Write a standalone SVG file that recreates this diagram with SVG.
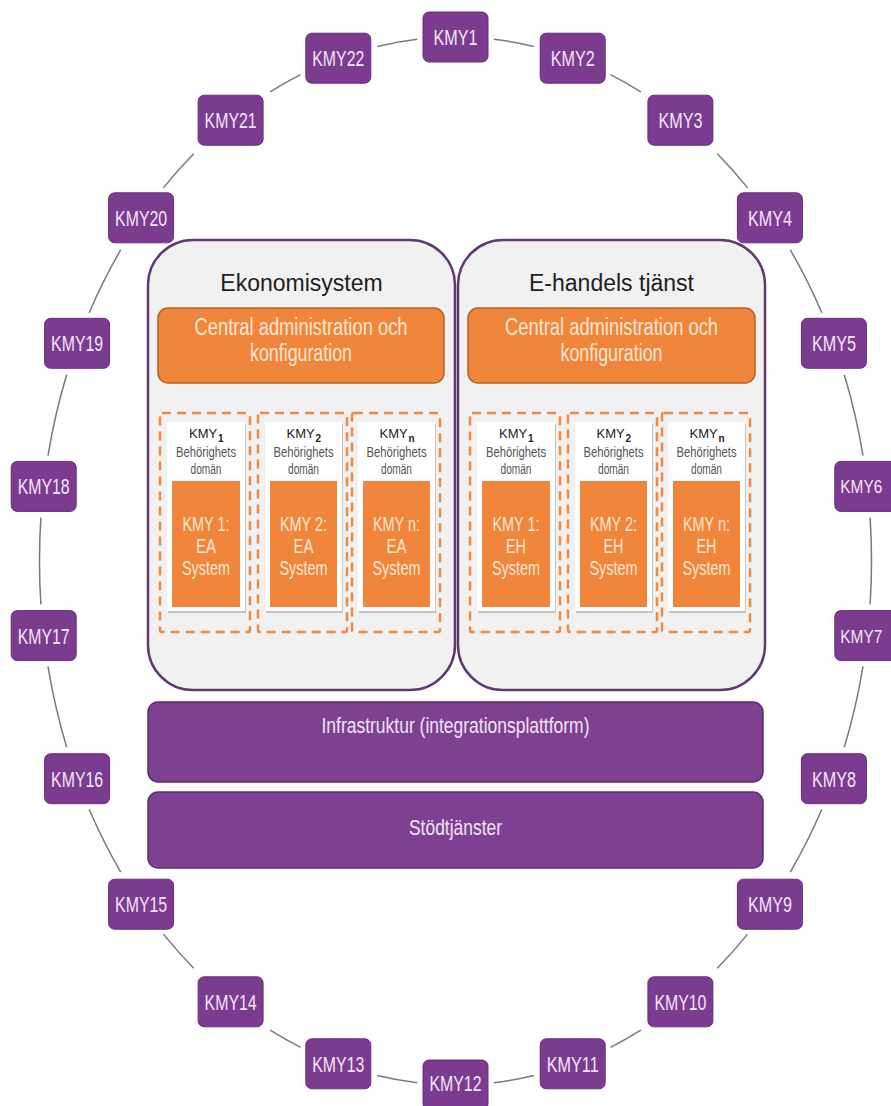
<svg xmlns="http://www.w3.org/2000/svg" width="891" height="1106" viewBox="0 0 891 1106">
<style>
text{font-family:'Liberation Sans',Arial,sans-serif;text-anchor:middle}
.node rect{fill:#7b3b8e;stroke:#6a2f7b;stroke-width:1}
.node text{font-size:22px;fill:#f4e6f6}
.node text.edge{font-size:19px}
.conn path{fill:none;stroke:#7a7a7a;stroke-width:1.5}
.panel{fill:#f1f1f1;stroke:#5f3b6f;stroke-width:2.5}
.title{font-size:23px;fill:#1e1e1e}
.admin{fill:#f0863c;stroke:#b5622a;stroke-width:1.5}
.admintxt{font-size:23px;fill:#fde6d3}
.dash{fill:none;stroke:#f08a40;stroke-width:2.5;stroke-dasharray:9 6}
.card{fill:#ffffff}
.shadow{fill:#c4c4c4}
.inner{fill:#f0863c}
.kmy{font-size:13px;fill:#222;text-anchor:start}
.sub{font-size:10px;font-weight:bold;fill:#222;text-anchor:start}
.beh{font-size:14px;fill:#555}
.sys{font-size:20px;fill:#fde6d3}
.bar rect{fill:#7e4191;stroke:#5b2c6a;stroke-width:1.5}
.bar text{fill:#f3e2f4;font-size:22px}
</style>
<g id="connectors" class="conn">
<path d="M493.8 39.2 A416 524 0 0 1 533.8 46.4"/>
<path d="M610.5 74.7 A416 524 0 0 1 640.8 91.9"/>
<path d="M717.3 153.8 A416 524 0 0 1 747.6 187.9"/>
<path d="M790.3 249.9 A416 524 0 0 1 821.8 312.7"/>
<path d="M844.3 374.8 A416 524 0 0 1 863.0 455.6"/>
<path d="M870.1 517.6 A416 524 0 0 1 870.1 604.4"/>
<path d="M863.0 666.4 A416 524 0 0 1 844.3 747.2"/>
<path d="M821.8 809.3 A416 524 0 0 1 790.3 872.1"/>
<path d="M747.6 934.1 A416 524 0 0 1 717.3 968.2"/>
<path d="M640.8 1030.1 A416 524 0 0 1 610.5 1047.3"/>
<path d="M533.8 1075.6 A416 524 0 0 1 493.8 1082.8"/>
<path d="M417.2 1082.8 A416 524 0 0 1 377.2 1075.6"/>
<path d="M300.5 1047.3 A416 524 0 0 1 270.2 1030.1"/>
<path d="M193.7 968.2 A416 524 0 0 1 163.4 934.1"/>
<path d="M120.7 872.1 A416 524 0 0 1 89.2 809.3"/>
<path d="M66.7 747.2 A416 524 0 0 1 48.0 666.4"/>
<path d="M40.9 604.4 A416 524 0 0 1 40.9 517.6"/>
<path d="M48.0 455.6 A416 524 0 0 1 66.7 374.8"/>
<path d="M89.2 312.7 A416 524 0 0 1 120.7 249.9"/>
<path d="M163.4 187.9 A416 524 0 0 1 193.7 153.8"/>
<path d="M270.2 91.9 A416 524 0 0 1 300.5 74.7"/>
<path d="M377.2 46.4 A416 524 0 0 1 417.2 39.2"/>
</g>
<g id="kmy1" class="node" transform="translate(455.5,37)"><rect x="-32.5" y="-25" width="65" height="50" rx="6"/><text y="8" textLength="44" lengthAdjust="spacingAndGlyphs">KMY1</text></g>
<g id="kmy2" class="node" transform="translate(572.7,58.2)"><rect x="-32.5" y="-25" width="65" height="50" rx="6"/><text y="8" textLength="44" lengthAdjust="spacingAndGlyphs">KMY2</text></g>
<g id="kmy3" class="node" transform="translate(680.4,120.2)"><rect x="-32.5" y="-25" width="65" height="50" rx="6"/><text y="8" textLength="44" lengthAdjust="spacingAndGlyphs">KMY3</text></g>
<g id="kmy4" class="node" transform="translate(769.9,217.8)"><rect x="-32.5" y="-25" width="65" height="50" rx="6"/><text y="8" textLength="44" lengthAdjust="spacingAndGlyphs">KMY4</text></g>
<g id="kmy5" class="node" transform="translate(833.9,343.3)"><rect x="-32.5" y="-25" width="65" height="50" rx="6"/><text y="8" textLength="44" lengthAdjust="spacingAndGlyphs">KMY5</text></g>
<g id="kmy6" class="node" transform="translate(867.3,486.4)"><rect x="-32.5" y="-25" width="65" height="50" rx="6"/><text class="edge" x="-6" y="7" textLength="42" lengthAdjust="spacingAndGlyphs">KMY6</text></g>
<g id="kmy7" class="node" transform="translate(867.3,635.6)"><rect x="-32.5" y="-25" width="65" height="50" rx="6"/><text class="edge" x="-6" y="7" textLength="42" lengthAdjust="spacingAndGlyphs">KMY7</text></g>
<g id="kmy8" class="node" transform="translate(833.9,778.7)"><rect x="-32.5" y="-25" width="65" height="50" rx="6"/><text y="8" textLength="44" lengthAdjust="spacingAndGlyphs">KMY8</text></g>
<g id="kmy9" class="node" transform="translate(769.9,904.2)"><rect x="-32.5" y="-25" width="65" height="50" rx="6"/><text y="8" textLength="44" lengthAdjust="spacingAndGlyphs">KMY9</text></g>
<g id="kmy10" class="node" transform="translate(680.4,1001.8)"><rect x="-32.5" y="-25" width="65" height="50" rx="6"/><text y="8" textLength="52" lengthAdjust="spacingAndGlyphs">KMY10</text></g>
<g id="kmy11" class="node" transform="translate(572.7,1063.8)"><rect x="-32.5" y="-25" width="65" height="50" rx="6"/><text y="8" textLength="52" lengthAdjust="spacingAndGlyphs">KMY11</text></g>
<g id="kmy12" class="node" transform="translate(455.5,1085)"><rect x="-32.5" y="-25" width="65" height="50" rx="6"/><text y="6" textLength="52" lengthAdjust="spacingAndGlyphs">KMY12</text></g>
<g id="kmy13" class="node" transform="translate(338.3,1063.8)"><rect x="-32.5" y="-25" width="65" height="50" rx="6"/><text y="8" textLength="52" lengthAdjust="spacingAndGlyphs">KMY13</text></g>
<g id="kmy14" class="node" transform="translate(230.6,1001.8)"><rect x="-32.5" y="-25" width="65" height="50" rx="6"/><text y="8" textLength="52" lengthAdjust="spacingAndGlyphs">KMY14</text></g>
<g id="kmy15" class="node" transform="translate(141.1,904.2)"><rect x="-32.5" y="-25" width="65" height="50" rx="6"/><text y="8" textLength="52" lengthAdjust="spacingAndGlyphs">KMY15</text></g>
<g id="kmy16" class="node" transform="translate(77.1,778.7)"><rect x="-32.5" y="-25" width="65" height="50" rx="6"/><text y="8" textLength="52" lengthAdjust="spacingAndGlyphs">KMY16</text></g>
<g id="kmy17" class="node" transform="translate(43.7,635.6)"><rect x="-32.5" y="-25" width="65" height="50" rx="6"/><text y="8" textLength="52" lengthAdjust="spacingAndGlyphs">KMY17</text></g>
<g id="kmy18" class="node" transform="translate(43.7,486.4)"><rect x="-32.5" y="-25" width="65" height="50" rx="6"/><text y="8" textLength="52" lengthAdjust="spacingAndGlyphs">KMY18</text></g>
<g id="kmy19" class="node" transform="translate(77.1,343.3)"><rect x="-32.5" y="-25" width="65" height="50" rx="6"/><text y="8" textLength="52" lengthAdjust="spacingAndGlyphs">KMY19</text></g>
<g id="kmy20" class="node" transform="translate(141.1,217.8)"><rect x="-32.5" y="-25" width="65" height="50" rx="6"/><text y="8" textLength="52" lengthAdjust="spacingAndGlyphs">KMY20</text></g>
<g id="kmy21" class="node" transform="translate(230.6,120.2)"><rect x="-32.5" y="-25" width="65" height="50" rx="6"/><text y="8" textLength="52" lengthAdjust="spacingAndGlyphs">KMY21</text></g>
<g id="kmy22" class="node" transform="translate(338.3,58.2)"><rect x="-32.5" y="-25" width="65" height="50" rx="6"/><text y="8" textLength="52" lengthAdjust="spacingAndGlyphs">KMY22</text></g>

<g id="ekonomisystem">
<rect class="panel" x="148" y="240" width="307" height="450" rx="45"/>
<text class="title" x="301.5" y="291">Ekonomisystem</text>
<rect class="admin" x="158" y="308" width="286" height="75" rx="10"/>
<text class="admintxt" x="301" y="335" textLength="213" lengthAdjust="spacingAndGlyphs">Central administration och</text>
<text class="admintxt" x="301" y="361" textLength="102" lengthAdjust="spacingAndGlyphs">konfiguration</text>
</g>
<g id="ea1">
<rect class="dash" x="160" y="413" width="90" height="219" rx="2"/>
<rect class="shadow" x="168" y="424" width="78" height="189"/>
<rect class="card" x="167" y="422" width="78" height="189"/>
<rect class="inner" x="172" y="481" width="68" height="126"/>
<text class="kmy" x="189" y="438">KMY</text>
<text class="sub" x="218" y="442">1</text>
<text class="beh" x="206" y="457" textLength="60" lengthAdjust="spacingAndGlyphs">Behörighets</text>
<text class="beh" x="206" y="474" textLength="31" lengthAdjust="spacingAndGlyphs">domän</text>
<text class="sys" x="206" y="531" textLength="47" lengthAdjust="spacingAndGlyphs">KMY 1:</text>
<text class="sys" x="206" y="553" textLength="20" lengthAdjust="spacingAndGlyphs">EA</text>
<text class="sys" x="206" y="575" textLength="48" lengthAdjust="spacingAndGlyphs">System</text>
</g>
<g id="ea2">
<rect class="dash" x="258" y="413" width="89" height="219" rx="2"/>
<rect class="shadow" x="266" y="424" width="77" height="189"/>
<rect class="card" x="265" y="422" width="77" height="189"/>
<rect class="inner" x="270" y="481" width="67" height="126"/>
<text class="kmy" x="286.5" y="438">KMY</text>
<text class="sub" x="315.5" y="442">2</text>
<text class="beh" x="303.5" y="457" textLength="60" lengthAdjust="spacingAndGlyphs">Behörighets</text>
<text class="beh" x="303.5" y="474" textLength="31" lengthAdjust="spacingAndGlyphs">domän</text>
<text class="sys" x="303.5" y="531" textLength="47" lengthAdjust="spacingAndGlyphs">KMY 2:</text>
<text class="sys" x="303.5" y="553" textLength="20" lengthAdjust="spacingAndGlyphs">EA</text>
<text class="sys" x="303.5" y="575" textLength="48" lengthAdjust="spacingAndGlyphs">System</text>
</g>
<g id="ean">
<rect class="dash" x="352" y="413" width="88" height="219" rx="2"/>
<rect class="shadow" x="359" y="424" width="77" height="189"/>
<rect class="card" x="358" y="422" width="77" height="189"/>
<rect class="inner" x="363" y="481" width="67" height="126"/>
<text class="kmy" x="379.5" y="438">KMY</text>
<text class="sub" x="408.5" y="442">n</text>
<text class="beh" x="396.5" y="457" textLength="60" lengthAdjust="spacingAndGlyphs">Behörighets</text>
<text class="beh" x="396.5" y="474" textLength="31" lengthAdjust="spacingAndGlyphs">domän</text>
<text class="sys" x="396.5" y="531" textLength="47" lengthAdjust="spacingAndGlyphs">KMY n:</text>
<text class="sys" x="396.5" y="553" textLength="20" lengthAdjust="spacingAndGlyphs">EA</text>
<text class="sys" x="396.5" y="575" textLength="48" lengthAdjust="spacingAndGlyphs">System</text>
</g>

<g id="ehandel">
<rect class="panel" x="458" y="240" width="307" height="450" rx="45"/>
<text class="title" x="611.5" y="291">E-handels tjänst</text>
<rect class="admin" x="468" y="308" width="287" height="75" rx="10"/>
<text class="admintxt" x="611.5" y="335" textLength="213" lengthAdjust="spacingAndGlyphs">Central administration och</text>
<text class="admintxt" x="611.5" y="361" textLength="102" lengthAdjust="spacingAndGlyphs">konfiguration</text>
</g>
<g id="eh1">
<rect class="dash" x="470" y="413" width="90" height="219" rx="2"/>
<rect class="shadow" x="478" y="424" width="78" height="189"/>
<rect class="card" x="477" y="422" width="78" height="189"/>
<rect class="inner" x="482" y="481" width="68" height="126"/>
<text class="kmy" x="499" y="438">KMY</text>
<text class="sub" x="528" y="442">1</text>
<text class="beh" x="516" y="457" textLength="60" lengthAdjust="spacingAndGlyphs">Behörighets</text>
<text class="beh" x="516" y="474" textLength="31" lengthAdjust="spacingAndGlyphs">domän</text>
<text class="sys" x="516" y="531" textLength="47" lengthAdjust="spacingAndGlyphs">KMY 1:</text>
<text class="sys" x="516" y="553" textLength="20" lengthAdjust="spacingAndGlyphs">EH</text>
<text class="sys" x="516" y="575" textLength="48" lengthAdjust="spacingAndGlyphs">System</text>
</g>
<g id="eh2">
<rect class="dash" x="568" y="413" width="89" height="219" rx="2"/>
<rect class="shadow" x="576" y="424" width="77" height="189"/>
<rect class="card" x="575" y="422" width="77" height="189"/>
<rect class="inner" x="580" y="481" width="67" height="126"/>
<text class="kmy" x="596.5" y="438">KMY</text>
<text class="sub" x="625.5" y="442">2</text>
<text class="beh" x="613.5" y="457" textLength="60" lengthAdjust="spacingAndGlyphs">Behörighets</text>
<text class="beh" x="613.5" y="474" textLength="31" lengthAdjust="spacingAndGlyphs">domän</text>
<text class="sys" x="613.5" y="531" textLength="47" lengthAdjust="spacingAndGlyphs">KMY 2:</text>
<text class="sys" x="613.5" y="553" textLength="20" lengthAdjust="spacingAndGlyphs">EH</text>
<text class="sys" x="613.5" y="575" textLength="48" lengthAdjust="spacingAndGlyphs">System</text>
</g>
<g id="ehn">
<rect class="dash" x="662" y="413" width="88" height="219" rx="2"/>
<rect class="shadow" x="669" y="424" width="77" height="189"/>
<rect class="card" x="668" y="422" width="77" height="189"/>
<rect class="inner" x="673" y="481" width="67" height="126"/>
<text class="kmy" x="689.5" y="438">KMY</text>
<text class="sub" x="718.5" y="442">n</text>
<text class="beh" x="706.5" y="457" textLength="60" lengthAdjust="spacingAndGlyphs">Behörighets</text>
<text class="beh" x="706.5" y="474" textLength="31" lengthAdjust="spacingAndGlyphs">domän</text>
<text class="sys" x="706.5" y="531" textLength="47" lengthAdjust="spacingAndGlyphs">KMY n:</text>
<text class="sys" x="706.5" y="553" textLength="20" lengthAdjust="spacingAndGlyphs">EH</text>
<text class="sys" x="706.5" y="575" textLength="48" lengthAdjust="spacingAndGlyphs">System</text>
</g>

<g id="infrastruktur" class="bar">
<rect x="148" y="702" width="615" height="80" rx="10"/>
<text x="455.5" y="733" textLength="268" lengthAdjust="spacingAndGlyphs">Infrastruktur (integrationsplattform)</text>
</g>
<g id="stodtjanster" class="bar">
<rect x="148" y="792" width="615" height="76" rx="10"/>
<text x="455.5" y="835" textLength="93" lengthAdjust="spacingAndGlyphs">Stödtjänster</text>
</g>
</svg>
